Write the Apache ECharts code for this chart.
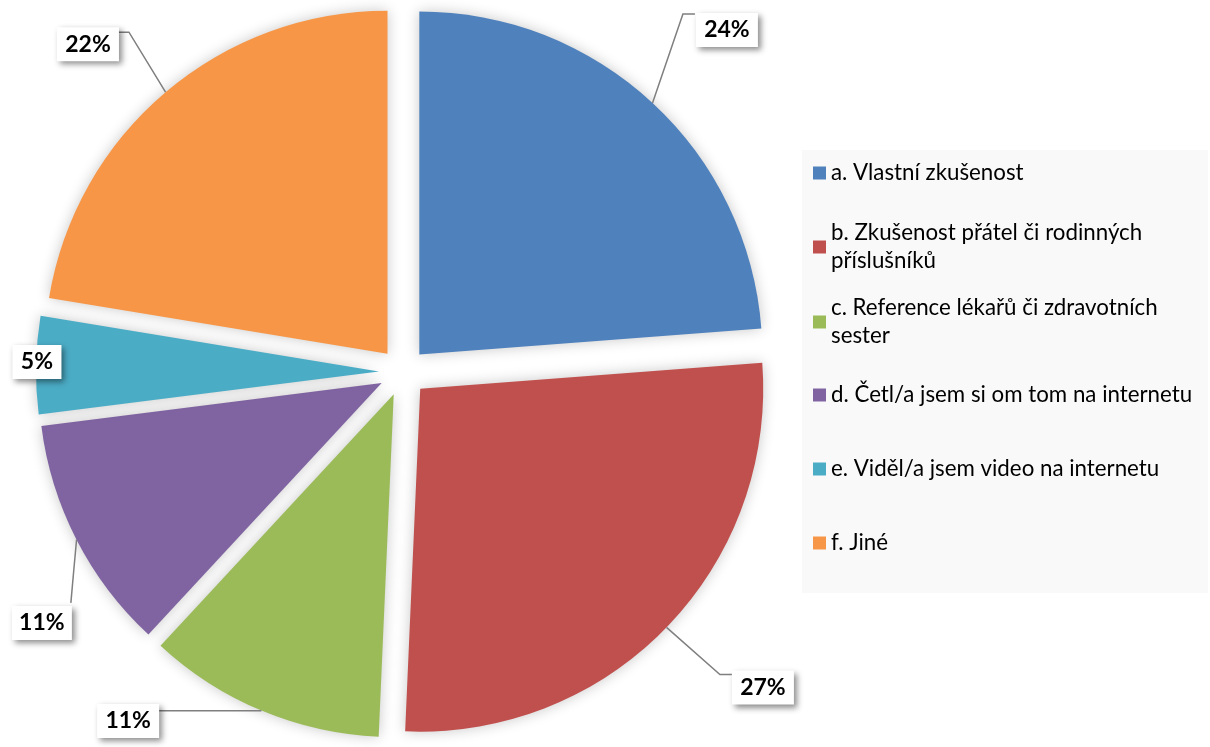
<!DOCTYPE html>
<html><head><meta charset="utf-8">
<script src="https://cdn.jsdelivr.net/npm/echarts@6/dist/echarts.min.js"></script>
<style>html,body{margin:0;padding:0;background:#fff}#c{width:1210px;height:747px}</style>
</head><body><div id="c"></div>
<script>
const categories = [
  'a. Vlastní zkušenost',
  'b. Zkušenost přátel či rodinných\npříslušníků',
  'c. Reference lékařů či zdravotních\nsester',
  'd. Četl/a jsem si om tom na internetu',
  'e. Viděl/a jsem video na internetu',
  'f. Jiné'
];
// shares in percent (labels show them rounded)
const values = [23.8, 26.9, 11.2, 11.1, 4.6, 22.4];
const colors = ['#4f81bd', '#c0504d', '#9bbb59', '#8064a2', '#4bacc6', '#f79646'];

// label placement relative to each slice's label anchor (layout only)
const labelOffsets = [
  { c: [90.7, -90.6], w: 46, line: [[16.3, -17.6], [46.7, -106.6], [58.7, -106.6]] },
  { c: [113.6, 76.9], w: 46, line: [[17.2, 16.7], [70.6, 63.9], [82.6, 63.9]] },
  { c: [-142.6, 32.4], w: 46, line: [[-9.3, 22.2], [-61, 22.2], [-112.6, 22.2]] },
  { c: [-56, 94.2], w: 44, line: [[-21.3, 11], [-24.2, 42.6], [-27, 74.2]] },
  { c: [-23.1, -3.5], w: 33, line: null },
  { c: [-93.1, -66.3], w: 46, line: [[-15.5, -18.3], [-52.1, -78.3], [-63.1, -78.3]] }
];
// legend icon centre rows (layout only)
const legendRows = [173, 247, 322, 395, 469, 543];

const FONT = 'Lato, "Liberation Sans", sans-serif';

const legends = categories.map((name, i) => {
  const lines = name.split('\n').length;
  return {
    data: [name],
    left: 813,
    top: lines > 1 ? legendRows[i] - 42 : legendRows[i] - 14,
    padding: 0,
    orient: 'vertical',
    icon: 'rect',
    itemWidth: 13, itemHeight: 13,
    selectedMode: false,
    textStyle: {
      fontFamily: FONT, fontSize: 22.3, color: '#000', lineHeight: 28,
      padding: lines > 1 ? [28, 0, 0, 0] : 0
    }
  };
});

const center = [403, 372];
const radius = 343;

const chart = echarts.init(document.getElementById('c'), null, { renderer: 'canvas' });
chart.setOption({
  animation: false,
  backgroundColor: '#fff',
  color: colors,
  graphic: [{
    type: 'rect', z: -10, silent: true,
    shape: { x: 802, y: 150, width: 406, height: 443 },
    style: { fill: '#f9f9f9' }
  }],
  legend: legends,
  series: [{
    // exploded slices
    type: 'pie',
    z: 2,
    center, radius,
    startAngle: 90, clockwise: true,
    selectedMode: 'multiple',
    selectedOffset: 24,
    emphasis: { disabled: true },
    itemStyle: { shadowBlur: 14, shadowColor: 'rgba(0,0,0,0.22)' },
    label: { show: false },
    labelLine: { show: false },
    data: categories.map((name, i) => ({ name, value: values[i], selected: true, itemStyle: { color: colors[i] } }))
  }, {
    // same data, used only to carry the data labels
    type: 'pie',
    zlevel: 1,
    z: 5,
    center, radius,
    startAngle: 90, clockwise: true,
    selectedMode: false,
    silent: true,
    emphasis: { disabled: true },
    itemStyle: { color: 'rgba(0,0,0,0)', borderWidth: 0 },
    label: {
      show: true,
      position: 'outside',
      alignTo: 'none',
      overflow: 'none',
      formatter: p => Math.round(p.value) + '%',
      fontFamily: FONT, fontSize: 23, fontWeight: 'bold', color: '#000',
      backgroundColor: '#ffffff',
      padding: [6, 8, 5, 8],
      shadowColor: 'rgba(0,0,0,0.45)', shadowBlur: 6, shadowOffsetX: 3, shadowOffsetY: 3
    },
    labelLine: { show: true, lineStyle: { color: '#7f7f7f', width: 1.5 } },
    labelLayout: function (params) {
      const i = params.dataIndex;
      const p = params.labelLinePoints;
      if (!p) return {};
      const a = p[0];
      const o = labelOffsets[i];
      const res = {
        x: a[0] + o.c[0], y: a[1] + o.c[1],
        align: 'center', verticalAlign: 'middle'
      };
      if (o.line) {
        res.labelLinePoints = o.line.map(d => [a[0] + d[0], a[1] + d[1]]);
      }
      return res;
    },
    data: categories.map((name, i) => ({
      name, value: values[i],
      label: { width: labelOffsets[i].w, align: 'center' },
      labelLine: { show: labelOffsets[i].line != null }
    }))
  }]
});
</script>
</body></html>
